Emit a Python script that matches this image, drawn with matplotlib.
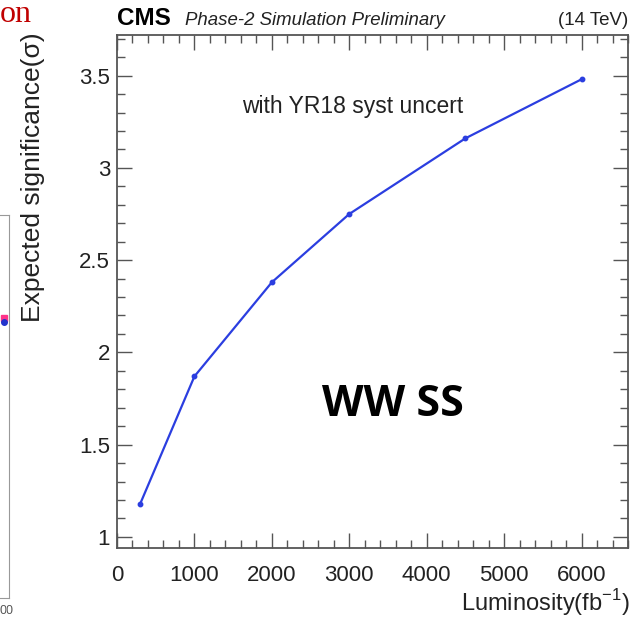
import matplotlib
matplotlib.use("Agg")
import matplotlib.pyplot as plt
from matplotlib.ticker import MultipleLocator

# expected significance vs integrated luminosity (WW same-sign)
lumi = [300, 1000, 2000, 3000, 4500, 6000]
signif = [1.18, 1.87, 2.38, 2.75, 3.16, 3.48]

x_ticks = [0, 1000, 2000, 3000, 4000, 5000, 6000]
y_ticks = [1, 1.5, 2, 2.5, 3, 3.5]
y_tick_labels = ["1", "1.5", "2", "2.5", "3", "3.5"]

plt.rcParams['font.family'] = ['Liberation Sans', 'DejaVu Sans']

fig = plt.figure(figsize=(6.38, 6.18), dpi=100)
ax = fig.add_axes([117 / 638, 1 - 548 / 618, 511 / 638, 513 / 618])

line_col = '#2b3ee0'
ax.plot(lumi, signif, '-', color=line_col, lw=1.6)
ax.plot(lumi, signif, 'o', color=line_col, ms=3.2)

ax.set_xlim(0, 6600)
ax.set_ylim(0.94, 3.72)
ax.set_xticks(x_ticks)
ax.set_yticks(y_ticks)
ax.set_yticklabels(y_tick_labels)
ax.xaxis.set_minor_locator(MultipleLocator(200))
ax.yaxis.set_minor_locator(MultipleLocator(0.1))
ax.tick_params(which='both', direction='in', top=True, right=True,
               color='#555555', labelsize=16, labelcolor='#222222')
ax.tick_params(which='major', length=11, width=1)
ax.tick_params(which='minor', length=5.5, width=1)
ax.tick_params(axis='x', pad=12)
ax.tick_params(axis='y', pad=5)
for sp in ax.spines.values():
    sp.set_color('#555555')
    sp.set_linewidth(1.3)

# axis titles, ROOT style (aligned to the axis end)
fig.text(630 / 638, 1 - 611 / 618, 'Luminosity(fb$^{\\mathregular{-1}}$)',
         fontsize=17, color='#222222', ha='right', va='baseline')
fig.text(33 / 638, 1 - 32 / 618, 'Expected significance(\u03c3)', rotation=90,
         ha='center', va='top', fontsize=19, color='#222222')

# header
fig.text(117 / 638, 1 - 25 / 618, 'CMS', fontsize=17.5, fontweight='bold',
         ha='left', va='baseline')
fig.text(185 / 638, 1 - 25 / 618, 'Phase-2 Simulation Preliminary', fontsize=13.4,
         style='italic', ha='left', va='baseline', color='#222222')
fig.text(628 / 638, 1 - 25 / 618, '(14 TeV)', fontsize=13.5, ha='right',
         va='baseline', color='#222222')

ax.text(3050, 3.33, 'with YR18 syst uncert', fontsize=16.5, ha='center',
        va='center', color='#222222')
ax.text(3570, 1.72, 'WW SS', fontsize=31, fontweight='bold', ha='center',
        va='center', family=['Open Sans', 'DejaVu Sans'], color='black')

# fragments of the neighbouring slide content at the left edge
fig.text(0, 1 - 22 / 618, 'on', fontsize=23, color='#c00000', ha='left',
         va='baseline', family=['Liberation Serif', 'DejaVu Serif'])
left_ax = fig.add_axes([-0.4, 1 - 598 / 618, 0.4 + 9 / 638, 383 / 618])
left_ax.plot([1.0], [0.73], 's', color='#ff3388', ms=5, clip_on=False)
left_ax.plot([1.0], [0.72], 'o', color='#2233cc', ms=4, clip_on=False)
left_ax.set_xlim(0, 1.02)
left_ax.set_ylim(0, 1)
left_ax.set_xticks([])
left_ax.set_yticks([])
for sp in left_ax.spines.values():
    sp.set_color('#999999')
fig.text(0, 1 - 614 / 618, '00', fontsize=9, color='#555555', ha='left',
         va='baseline')

fig.savefig('out.png', dpi=100)
